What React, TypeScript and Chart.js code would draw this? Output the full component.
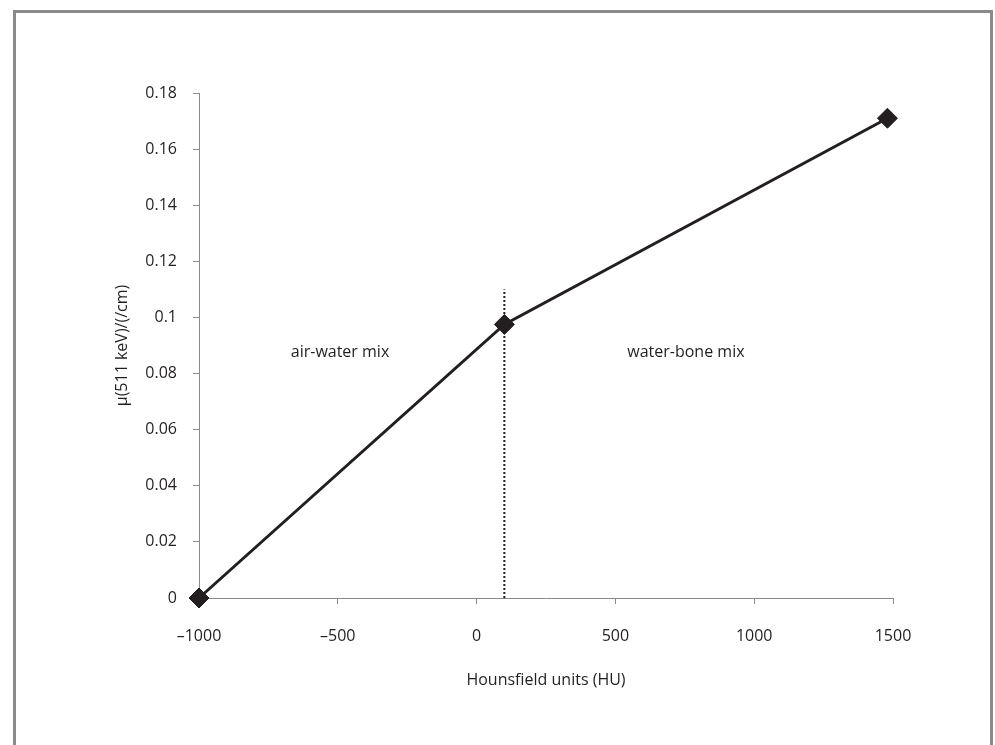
import React, { useEffect, useRef } from "react";
import { Chart, registerables } from "chart.js";

Chart.register(...registerables);

const huValues = [-1000, 100, 1480];
const muValues = [0, 0.0975, 0.171];
const dividerX = [100, 100];
const dividerY = [0, 0.11];
const xTicks = [-1000, -500, 0, 500, 1000, 1500];
const yTicks = [0, 0.02, 0.04, 0.06, 0.08, 0.1, 0.12, 0.14, 0.16, 0.18];
const regionLabels = ["air-water mix", "water-bone mix"];
const regionLabelX = [-492, 754];
const regionLabelY = [0.0877, 0.0877];

const INK = "#231f20";
const AXIS = "#8a8a8a";
const FONT = "'Open Sans', 'DejaVu Sans', sans-serif";
const FS = 16;

export default function App() {
  const ref = useRef<HTMLCanvasElement | null>(null);

  useEffect(() => {
    if (!ref.current) return;
    const labelPlugin = {
      id: "regionLabels",
      afterDatasetsDraw(chart: any) {
        const ctx = chart.ctx;
        const xs = chart.scales.x;
        const ys = chart.scales.y;
        ctx.save();
        ctx.fillStyle = INK;
        ctx.font = `${FS}px ${FONT}`;
        ctx.textAlign = "center";
        ctx.textBaseline = "middle";
        regionLabels.forEach((t, i) => {
          ctx.fillText(t, xs.getPixelForValue(regionLabelX[i]), ys.getPixelForValue(regionLabelY[i]));
        });
        ctx.restore();
      },
    };

    const chart = new Chart(ref.current, {
      type: "line",
      data: {
        datasets: [
          {
            data: huValues.map((x, i) => ({ x, y: muValues[i] })),
            borderColor: INK,
            backgroundColor: INK,
            borderWidth: 3,
            pointStyle: "rectRot",
            pointRadius: 10,
            pointBorderWidth: 1,
            pointBackgroundColor: INK,
            pointBorderColor: INK,
            tension: 0,
            clip: false as any,
          },
          {
            data: dividerX.map((x, i) => ({ x, y: dividerY[i] })),
            borderColor: INK,
            borderWidth: 2,
            borderDash: [2, 2],
            pointRadius: 0,
            tension: 0,
          },
        ],
      },
      options: {
        responsive: false,
        animation: false,
        layout: { padding: { left: 0, right: 102, top: 93, bottom: 0 } },
        plugins: { legend: { display: false }, tooltip: { enabled: false } },
        scales: {
          x: {
            type: "linear",
            min: -1000,
            max: 1500,
            afterFit: (s: any) => { s.height = 147; },
            afterBuildTicks: (s: any) => { s.ticks = xTicks.map((v) => ({ value: v })); },
            ticks: {
              color: INK,
              font: { family: FONT, size: FS },
              padding: 23,
              callback: (v: any) => String(v).replace("-", "\u2013"),
            },
            grid: { drawOnChartArea: false, drawTicks: true, tickLength: 6, color: AXIS },
            border: { display: true, color: AXIS, width: 1 },
            title: {
              display: true,
              text: "Hounsfield units (HU)",
              color: INK,
              font: { family: FONT, size: FS },
              padding: { top: 0, bottom: 55 },
            },
          },
          y: {
            type: "linear",
            min: 0,
            max: 0.18,
            afterFit: (s: any) => { s.width = 199; },
            afterBuildTicks: (s: any) => { s.ticks = yTicks.map((v) => ({ value: v })); },
            ticks: {
              color: INK,
              font: { family: FONT, size: FS },
              padding: 16,
              callback: (v: any) => String(Number(Number(v).toFixed(2))),
            },
            grid: { drawOnChartArea: false, drawTicks: true, tickLength: 6, color: AXIS },
            border: { display: true, color: AXIS, width: 1 },
            title: {
              display: true,
              text: "\u03bc(511 keV)/(/cm)",
              color: INK,
              font: { family: FONT, size: FS },
              padding: { top: 113, bottom: 0 },
            },
          },
        },
      },
      plugins: [labelPlugin],
    });
    return () => chart.destroy();
  }, []);

  return (
    <div style={{ position: "absolute", left: 0, top: 0, width: 995, height: 745, background: "#fff", overflow: "hidden" }}>
      <div
        style={{
          position: "absolute",
          left: 13,
          top: 10,
          width: 974,
          height: 740,
          borderTop: "3px solid #8a8a8a",
          borderLeft: "3px solid #8a8a8a",
          borderRight: "3px solid #8a8a8a",
          boxSizing: "content-box",
        }}
      />
      <canvas ref={ref} width={995} height={745} style={{ position: "absolute", left: 0, top: 0 }} />
    </div>
  );
}
